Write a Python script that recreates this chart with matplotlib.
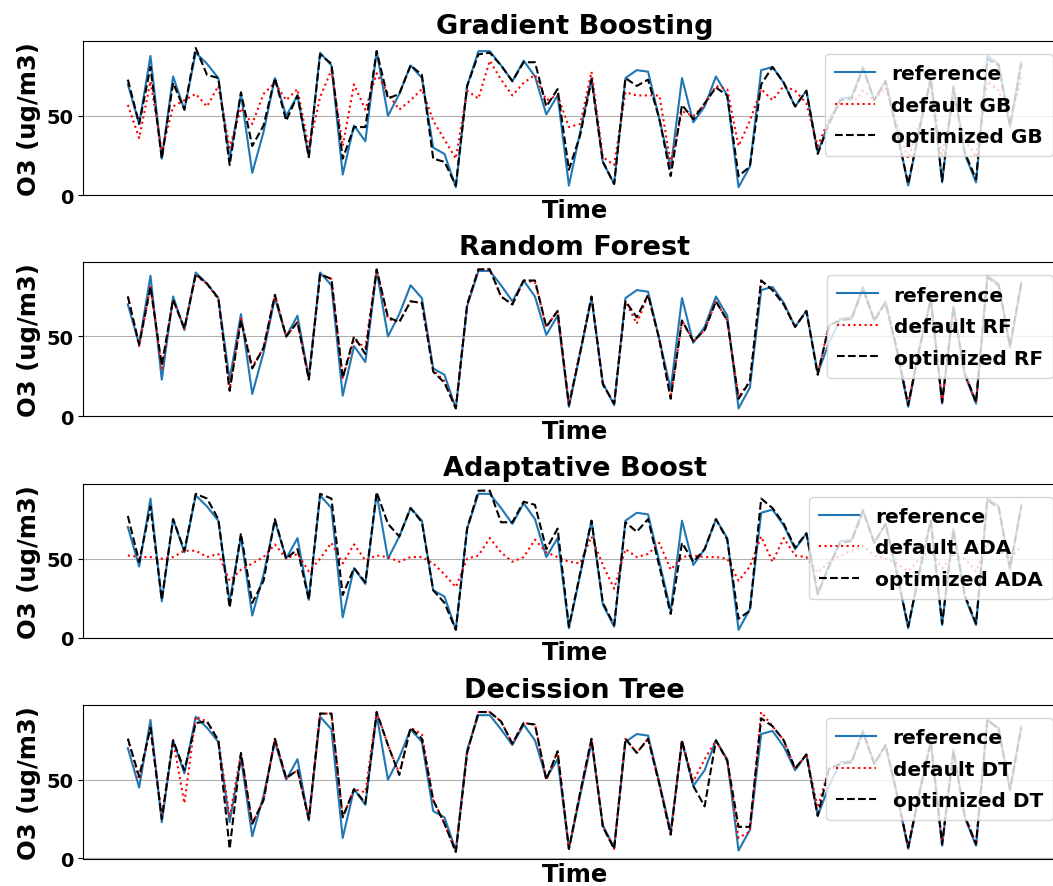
import matplotlib
matplotlib.use("Agg")
import matplotlib.pyplot as plt
import numpy as np

# measured ozone and model predictions over the test period
reference = [70, 45, 88, 23, 75, 54, 90, 83, 74, 23,
             64, 14, 40, 74, 50, 63, 24, 90, 82, 13,
             44, 34, 91, 50, 64, 82, 74, 30, 26, 5,
             69, 91, 91, 82, 72, 85, 75, 51, 63, 6,
             40, 74, 21, 7, 74, 79, 78, 48, 17, 74,
             46, 56, 75, 63, 5, 18, 79, 81, 71, 56,
             66, 27, 46, 61, 62, 81, 60, 72, 41, 6,
             42, 74, 8, 69, 26, 8, 88, 83, 43, 84]

gb_default = [57, 36, 72, 28, 56, 60, 64, 56, 69, 30,
              55, 45, 64, 71, 60, 67, 30, 62, 79, 31,
              70, 54, 77, 64, 54, 60, 67, 47, 35, 23,
              66, 61, 85, 73, 63, 71, 76, 60, 63, 43,
              45, 78, 24, 19, 65, 63, 63, 63, 20, 53,
              50, 57, 69, 67, 31, 47, 67, 60, 69, 66,
              58, 31, 48, 58, 57, 66, 60, 68, 45, 23,
              45, 70, 24, 62, 35, 24, 72, 66, 45, 75]
gb_optimized = [73, 45, 81, 23, 71, 54, 93, 76, 74, 19,
                65, 31, 44, 74, 47, 63, 24, 89, 83, 23,
                43, 43, 91, 61, 64, 82, 76, 23, 21, 6,
                69, 89, 90, 82, 72, 84, 84, 56, 67, 16,
                38, 73, 21, 7, 74, 69, 73, 48, 12, 57,
                48, 58, 68, 63, 12, 18, 70, 81, 71, 56,
                66, 26, 45, 60, 61, 80, 60, 72, 40, 7,
                42, 74, 9, 68, 27, 10, 86, 82, 44, 83]

rf_default = [75, 44, 81, 30, 73, 55, 88, 83, 73, 17,
              61, 31, 43, 76, 50, 59, 24, 88, 86, 24,
              48, 43, 92, 61, 59, 72, 71, 29, 22, 5,
              70, 92, 92, 75, 70, 85, 84, 56, 66, 8,
              41, 75, 20, 8, 72, 58, 76, 48, 12, 60,
              47, 54, 72, 60, 12, 22, 85, 79, 70, 56,
              66, 27, 57, 61, 61, 79, 60, 71, 42, 8,
              43, 73, 9, 68, 27, 9, 87, 82, 44, 83]
rf_optimized = [75, 45, 81, 32, 73, 55, 89, 83, 74, 16,
                60, 30, 43, 76, 50, 59, 23, 89, 86, 24,
                50, 39, 92, 62, 59, 72, 71, 28, 21, 5,
                70, 92, 92, 75, 70, 85, 85, 56, 66, 7,
                40, 75, 20, 8, 72, 62, 76, 48, 11, 60,
                47, 54, 72, 60, 11, 22, 85, 79, 70, 56,
                66, 26, 57, 60, 61, 80, 60, 71, 42, 7,
                43, 73, 9, 68, 27, 9, 87, 82, 44, 83]

ada_default = [52, 51, 51, 50, 51, 55, 55, 51, 53, 36,
               43, 47, 51, 59, 50, 53, 42, 50, 60, 47,
               59, 49, 52, 51, 48, 51, 51, 47, 40, 32,
               50, 52, 63, 54, 48, 51, 62, 54, 51, 48,
               47, 64, 46, 31, 56, 51, 53, 60, 43, 51,
               52, 51, 51, 50, 36, 45, 64, 48, 63, 52,
               51, 41, 48, 52, 55, 58, 52, 50, 47, 42,
               50, 55, 44, 52, 50, 42, 60, 55, 50, 58]
ada_optimized = [77, 48, 83, 24, 75, 55, 91, 88, 75, 19,
                 66, 22, 36, 75, 50, 56, 24, 91, 88, 27,
                 44, 35, 92, 72, 64, 82, 73, 30, 22, 5,
                 69, 93, 93, 73, 73, 86, 84, 56, 69, 7,
                 41, 74, 22, 8, 73, 67, 75, 45, 15, 60,
                 48, 56, 75, 62, 12, 17, 88, 82, 72, 57,
                 66, 28, 45, 60, 61, 80, 60, 72, 41, 7,
                 42, 74, 9, 68, 27, 9, 87, 82, 44, 83]

dt_default = [76, 50, 83, 27, 75, 35, 90, 87, 75, 26,
              67, 22, 37, 76, 51, 56, 25, 92, 92, 26,
              44, 42, 93, 72, 54, 83, 79, 37, 22, 4,
              67, 93, 93, 87, 73, 86, 85, 50, 68, 6,
              42, 76, 20, 6, 76, 67, 76, 47, 15, 75,
              49, 63, 75, 62, 13, 17, 93, 84, 75, 57,
              66, 32, 57, 60, 61, 80, 60, 72, 41, 7,
              42, 74, 9, 68, 27, 9, 88, 82, 44, 83]
dt_optimized = [76, 52, 83, 25, 75, 56, 86, 87, 75, 6,
                67, 22, 37, 76, 51, 56, 25, 92, 92, 26,
                44, 35, 93, 72, 53, 83, 76, 37, 22, 4,
                67, 93, 93, 87, 73, 86, 85, 50, 68, 6,
                42, 76, 20, 6, 76, 67, 76, 47, 15, 75,
                46, 33, 75, 62, 20, 20, 89, 84, 75, 57,
                66, 27, 57, 60, 61, 80, 60, 72, 41, 7,
                42, 74, 9, 68, 27, 9, 88, 82, 44, 83]

titles = ['Gradient Boosting', 'Random Forest', 'Adaptative Boost', 'Decission Tree']
tags = ['GB', 'RF', 'ADA', 'DT']
defaults = [gb_default, rf_default, ada_default, dt_default]
optimized = [gb_optimized, rf_optimized, ada_optimized, dt_optimized]

plt.rcParams['font.weight'] = 'bold'
plt.rcParams['axes.titleweight'] = 'bold'
plt.rcParams['axes.labelweight'] = 'bold'

t = np.arange(len(reference))

fig, axes = plt.subplots(4, 1, figsize=(10.53, 8.87), dpi=100)
fig.subplots_adjust(left=0.079, right=1.0123, top=0.9526, bottom=0.0304, hspace=0.437)

for i in range(4):
    ax = axes[i]
    ax.plot(t, reference, color='tab:blue', lw=1.5, label='reference')
    ax.plot(t, defaults[i], 'r:', lw=1.5, label='default ' + tags[i])
    ax.plot(t, optimized[i], 'k--', lw=1.5, label='optimized ' + tags[i])
    ax.set_title(titles[i], fontsize=19.5)
    ax.set_xlabel('Time', fontsize=17.5, labelpad=2)
    ax.set_ylabel('O3 (ug/m3)', fontsize=17.5)
    ax.set_xticks([])
    ax.set_yticks([0, 50])
    ax.tick_params(axis='y', labelsize=14)
    ax.grid(True)
    ax.legend(loc='upper right', fontsize=14.5, labelspacing=0.62,
              borderaxespad=0.65, borderpad=0.5)

plt.savefig('out.png', dpi=100)
